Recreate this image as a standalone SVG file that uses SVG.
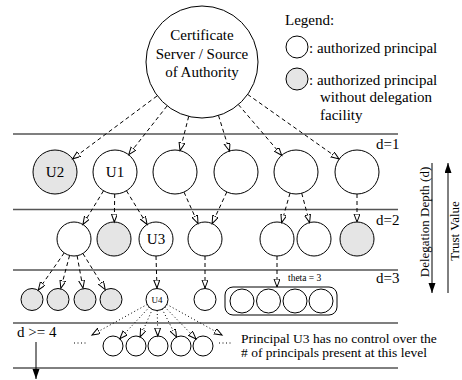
<svg xmlns="http://www.w3.org/2000/svg" width="462" height="380" viewBox="0 0 462 380" font-family="'Liberation Serif', 'DejaVu Serif', serif">
<style>
text{font-family:'Liberation Serif','DejaVu Serif',serif;fill:#000}
.t{font-size:15px}
.c{fill:#fff;stroke:#000;stroke-width:1}
.g{fill:#e5e5e5;stroke:#000;stroke-width:1}
.lvl{stroke:#555;stroke-width:1.6}
.dash{stroke:#000;stroke-width:1;stroke-dasharray:4,3;fill:none;marker-end:url(#open)}
.dot{stroke:#000;stroke-width:1;stroke-dasharray:1,2.5;fill:none}
.dota{marker-end:url(#open)}
.solid{stroke:#000;stroke-width:1;fill:none}
</style>
<defs>
<marker id="open" markerUnits="userSpaceOnUse" markerWidth="10" markerHeight="8" refX="8" refY="3" orient="auto">
<path d="M0,0 L8,3 L0,6 Z" fill="#fff" stroke="#000" stroke-width="1" stroke-dasharray="none"/>
</marker>
<marker id="fill" markerUnits="userSpaceOnUse" markerWidth="12" markerHeight="8" refX="10" refY="3.5" orient="auto">
<path d="M0,0 L10,3.5 L0,7 Z" fill="#000"/>
</marker>
</defs>
<rect width="462" height="380" fill="#fff"/>

<g id="levels">
<line class="lvl" x1="13" y1="134" x2="398" y2="134"/>
<line class="lvl" x1="13" y1="209.5" x2="398" y2="209.5"/>
<line class="lvl" x1="13" y1="270" x2="398" y2="270"/>
<line class="lvl" x1="13" y1="323" x2="398" y2="323"/>
<line x1="13" y1="368" x2="398" y2="368" stroke="#000" stroke-width="1"/>
<text class="t" x="376" y="149">d=1</text>
<text class="t" x="376" y="225">d=2</text>
<text class="t" x="376" y="283">d=3</text>
<text class="t" x="17" y="337">d &gt;= 4</text>
</g>

<g id="legend">
<text class="t" x="285" y="25">Legend:</text>
<circle class="c" cx="297" cy="47" r="11"/>
<text class="t" x="309" y="53">: authorized principal</text>
<circle class="g" cx="297" cy="79" r="11"/>
<text class="t" x="309" y="85">: authorized principal</text>
<text class="t" x="320" y="102">without delegation</text>
<text class="t" x="320" y="120">facility</text>
</g>

<g id="root">
<circle class="c" cx="202" cy="62" r="56"/>
<text class="t" x="202" y="40" text-anchor="middle">Certificate</text>
<text class="t" x="202" y="59" text-anchor="middle">Server / Source</text>
<text class="t" x="202" y="77" text-anchor="middle">of Authority</text>
</g>

<g id="d1">
<g id="U2"><circle class="g" cx="55" cy="172" r="22"/><text class="t" x="55" y="177" text-anchor="middle">U2</text></g>
<g id="U1"><circle class="c" cx="115" cy="172" r="22"/><text class="t" x="115" y="177" text-anchor="middle">U1</text></g>
<g id="n13"><circle class="c" cx="175" cy="172" r="22"/></g>
<g id="n14"><circle class="c" cx="236" cy="172" r="22"/></g>
<g id="n15"><circle class="c" cx="296" cy="172" r="22"/></g>
<g id="n16"><circle class="c" cx="357" cy="172" r="22"/></g>
</g>

<g id="d2">
<g id="n21"><circle class="c" cx="74" cy="239" r="17"/></g>
<g id="n22"><circle class="g" cx="114" cy="239" r="17"/></g>
<g id="U3"><circle class="c" cx="156" cy="239" r="17"/><text class="t" x="156" y="244" text-anchor="middle">U3</text></g>
<g id="n24"><circle class="c" cx="205" cy="239" r="17"/></g>
<g id="n25"><circle class="c" cx="277" cy="239" r="17"/></g>
<g id="n26"><circle class="c" cx="314" cy="239" r="17"/></g>
<g id="n27"><circle class="g" cx="357" cy="239" r="17"/></g>
</g>

<g id="d3">
<g id="n31"><circle class="g" cx="32" cy="299.5" r="11"/></g>
<g id="n32"><circle class="g" cx="58" cy="299.5" r="11"/></g>
<g id="n33"><circle class="g" cx="85" cy="299.5" r="11"/></g>
<g id="n34"><circle class="g" cx="111" cy="299.5" r="11"/></g>
<g id="U4"><circle class="c" cx="157" cy="299.5" r="11"/><text x="157" y="302.5" font-size="9" text-anchor="middle">U4</text></g>
<g id="n36"><circle class="c" cx="205" cy="299.5" r="11"/></g>
<g id="theta">
<rect x="225" y="287" width="112" height="28" rx="8" fill="#fff" stroke="#000" stroke-width="1"/>
<circle class="c" cx="242" cy="301" r="12"/>
<circle class="c" cx="268.5" cy="301" r="12"/>
<circle class="c" cx="295" cy="301" r="12"/>
<circle class="c" cx="321" cy="301" r="12"/>
<text x="288" y="281" font-size="9.5">theta = 3</text>
</g>
</g>

<g id="d4">
<circle class="c" cx="113" cy="346" r="10"/>
<circle class="c" cx="136" cy="346" r="10"/>
<circle class="c" cx="158" cy="346" r="10"/>
<circle class="c" cx="181" cy="346" r="10"/>
<circle class="c" cx="203" cy="346" r="10"/>
<line class="dot" x1="74" y1="343" x2="88" y2="343"/>
<line class="dot" x1="219" y1="343" x2="233" y2="343"/>
<text x="241" y="342.5" font-size="13.5">Principal U3 has no control over the</text>
<text x="241" y="356.5" font-size="13.5"># of principals present at this level</text>
</g>

<g id="connectors">
<path class="dash" d="M157,96 L72.6,158.8"/>
<path class="dash" d="M167,106 L128.7,154.7"/>
<path class="dash" d="M188.7,116.4 L180,150.6"/>
<path class="dash" d="M218.5,115.5 L229.5,151"/>
<path class="dash" d="M238.4,104.6 L281.7,155.3"/>
<path class="dash" d="M247.6,94.4 L339,159"/>

<path class="dash" d="M103.5,190.8 L82.9,224.5"/>
<path class="dash" d="M114.7,194 L114.3,222"/>
<path class="dash" d="M126.5,190.8 L147.1,224.5"/>
<path class="dash" d="M184,192.1 L198,223.5"/>
<path class="dash" d="M226.8,192 L212.1,223.6"/>
<path class="dash" d="M290,193.2 L281.6,222.6"/>
<path class="dash" d="M301.7,193.2 L309.6,222.6"/>
<path class="dash" d="M357,194 L357,222"/>

<path class="dash" d="M64.2,252.9 L38.3,290"/>
<path class="dash" d="M69.6,255.4 L60.8,288.4"/>
<path class="dash" d="M77.1,255.7 L83,288.2"/>
<path class="dash" d="M82.9,253.5 L105.2,289.6"/>
<path class="dash" d="M156,256 L157,288"/>
<path class="dash" d="M205,256 L205,288"/>
<path class="dash" d="M277,256 L277,287"/>

<path class="dot dota" d="M147.4,304.3 L92,335"/>
<path class="dot dota" d="M149.5,307 L119.8,338.7"/>
<path class="dot dota" d="M152.5,309 L140.1,336.9"/>
<path class="dot dota" d="M157.2,310.5 L157.8,336"/>
<path class="dot dota" d="M162,308.8 L176.5,337.1"/>
<path class="dot dota" d="M164.7,306.9 L196,338.9"/>
<path class="dot dota" d="M166.6,304.3 L222,335"/>

<line class="solid" x1="36" y1="342" x2="36" y2="379" marker-end="url(#fill)"/>
</g>

<g id="axes">
<line class="solid" x1="432" y1="163" x2="432" y2="293" marker-end="url(#fill)"/>
<text transform="translate(429,222) rotate(-90)" font-size="13" text-anchor="middle">Delegation Depth (d)</text>
<line class="solid" x1="448" y1="293" x2="448" y2="163" marker-end="url(#fill)"/>
<text transform="translate(459,231) rotate(-90)" font-size="13" text-anchor="middle">Trust Value</text>
</g>
</svg>
